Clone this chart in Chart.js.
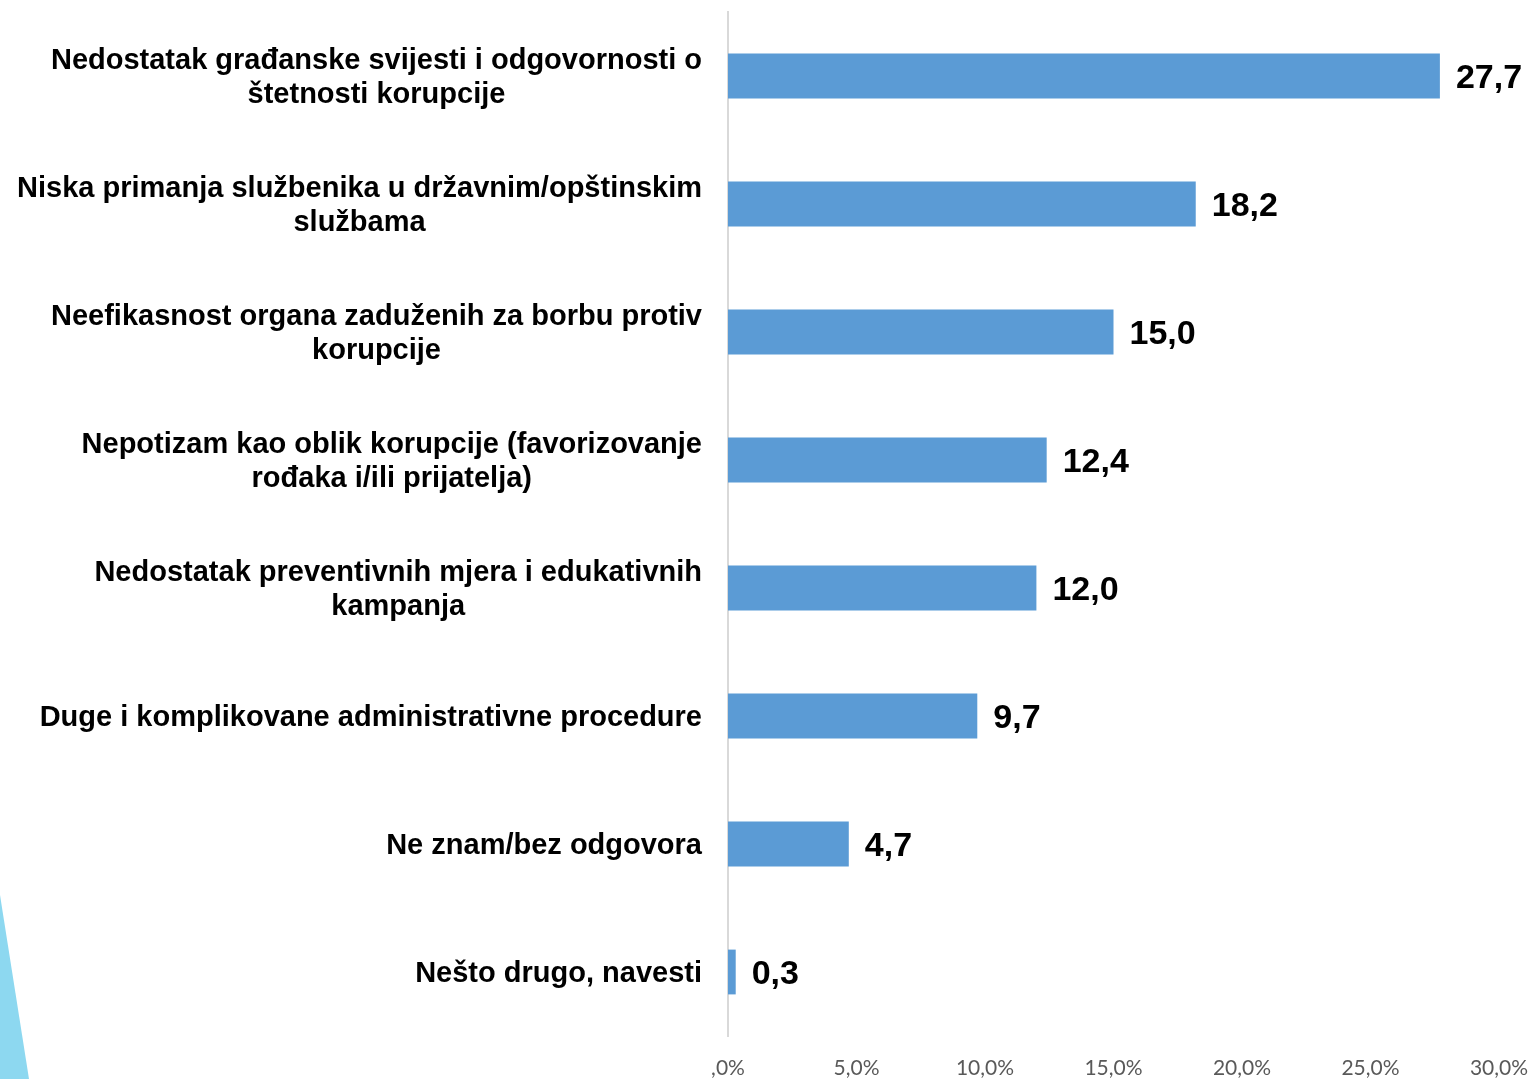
<!DOCTYPE html>
<html>
<head>
<meta charset="utf-8">
<script src="https://cdn.jsdelivr.net/npm/chart.js@4"></script>
<style>
  html, body { margin: 0; padding: 0; background: #fff; overflow: hidden; }
  #wrap { position: relative; width: 1532px; height: 1079px; }
  #deco { position: absolute; left: 0; top: 0; width: 1532px; height: 1079px;
          background: #8dd8f0; clip-path: polygon(0 895px, 29px 1079px, 0 1079px); }
  canvas { position: absolute; left: 0; top: 0; }
</style>
</head>
<body>
<div id="wrap">
  <div id="deco"></div>
  <canvas id="myChart" width="1532" height="1079"></canvas>
</div>
<script>
const categories = [
  ['Nedostatak građanske svijesti i odgovornosti o', 'štetnosti korupcije'],
  ['Niska primanja službenika u državnim/opštinskim', 'službama'],
  ['Neefikasnost organa zaduženih za borbu protiv', 'korupcije'],
  ['Nepotizam kao oblik korupcije (favorizovanje', 'rođaka i/ili prijatelja)'],
  ['Nedostatak preventivnih mjera i edukativnih', 'kampanja'],
  ['Duge i komplikovane administrativne procedure'],
  ['Ne znam/bez odgovora'],
  ['Nešto drugo, navesti']
];
const values = [27.7, 18.2, 15.0, 12.4, 12.0, 9.7, 4.7, 0.3];
const tickValues = [0, 5, 10, 15, 20, 25, 30];

const fmt = v => v.toFixed(1).replace('.', ',');
const boldFont = px => 'bold ' + px + 'px "Liberation Sans", Arial, sans-serif';

// category labels: block right-aligned to the axis, lines centred inside the block
const categoryLabels = {
  id: 'categoryLabels',
  afterDraw(chart) {
    const c = chart.ctx;
    const y = chart.scales.y;
    const right = y.right - 26;
    c.save();
    c.font = boldFont(29);
    c.fillStyle = '#000';
    c.textBaseline = 'middle';
    c.textAlign = 'center';
    categories.forEach((lines, i) => {
      const w = Math.max(...lines.map(l => c.measureText(l).width));
      const cx = right - w / 2;
      const cy = y.getPixelForTick(i) + 2;
      lines.forEach((l, j) => {
        c.fillText(l, cx, cy + (j - (lines.length - 1) / 2) * 34);
      });
    });
    c.restore();
  }
};

// value labels right of each bar
const valueLabels = {
  id: 'valueLabels',
  afterDatasetsDraw(chart) {
    const c = chart.ctx;
    const meta = chart.getDatasetMeta(0);
    c.save();
    c.font = boldFont(34);
    c.fillStyle = '#000';
    c.textBaseline = 'middle';
    c.textAlign = 'left';
    meta.data.forEach((bar, i) => {
      c.fillText(fmt(values[i]), bar.x + 16, bar.y + 3);
    });
    c.restore();
  }
};

const ctx = document.getElementById('myChart');

new Chart(ctx, {
  type: 'bar',
  data: {
    labels: categories.map(l => l.join(' ')),
    datasets: [{
      data: values,
      backgroundColor: '#5b9bd5',
      borderWidth: 0,
      barPercentage: 0.7,
      categoryPercentage: 0.5
    }]
  },
  options: {
    indexAxis: 'y',
    responsive: false,
    animation: false,
    layout: { padding: { top: 12, right: 33, bottom: 0, left: 0 } },
    plugins: {
      legend: { display: false },
      tooltip: { enabled: false }
    },
    scales: {
      x: {
        min: 0,
        max: 30,
        afterBuildTicks(scale) {
          scale.ticks = tickValues.map(v => ({ value: v }));
        },
        afterFit(scale) { scale.height = 43; scale.paddingLeft = 0; scale.paddingRight = 0; },
        grid: { display: false, drawTicks: false },
        border: { display: false },
        ticks: {
          padding: 20,
          color: '#595959',
          font: { family: 'Lato, "Open Sans", sans-serif', size: 21 },
          maxRotation: 0,
          callback: v => (v === 0 ? ',0' : fmt(v)) + '%'
        }
      },
      y: {
        afterFit(scale) { scale.width = 728; scale.paddingTop = 0; scale.paddingBottom = 0; },
        grid: { display: false, drawTicks: false },
        border: { display: true, color: '#d9d9d9', width: 2 },
        ticks: { display: false }
      }
    }
  },
  plugins: [valueLabels, categoryLabels]
});
</script>
</body>
</html>
